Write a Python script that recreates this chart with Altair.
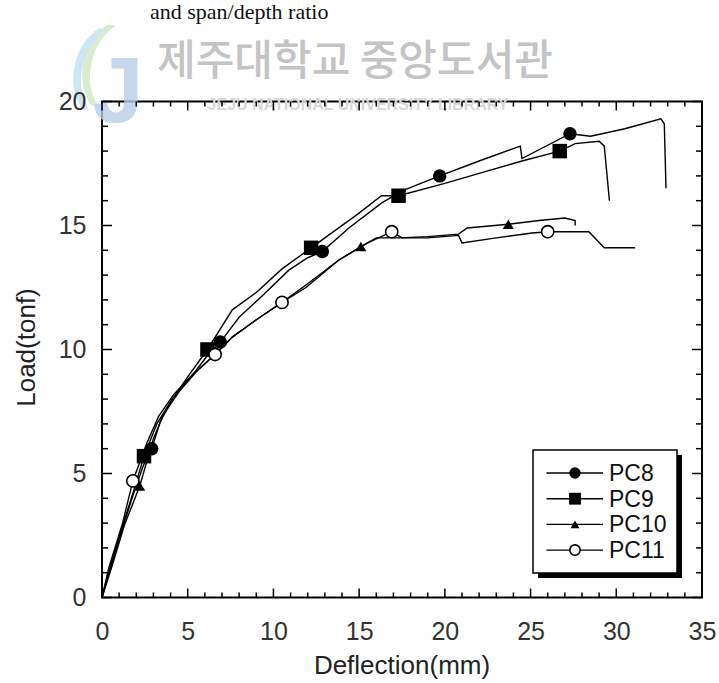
import altair as alt
import pandas as pd

# ---------------- data ----------------
series_names = ["PC8", "PC9", "PC10", "PC11"]

pc8_x = [0, 0.5, 1.2, 1.8, 2.4, 2.9, 3.4, 4.2, 5.2, 6.2, 6.9, 8.0, 9.4, 10.9, 12.0, 12.85, 14.4, 16.3,
         17.5, 19.7, 22.0, 24.4, 24.5, 27.3, 28.5, 30.5, 32.6, 32.8, 32.9]
pc8_y = [0, 1.3, 2.8, 4.1, 5.3, 6.0, 7.1, 8.1, 8.9, 9.8, 10.3, 11.3, 12.2, 13.2, 13.7, 13.95, 14.9, 15.9,
         16.4, 17.0, 17.6, 18.2, 17.7, 18.7, 18.6, 18.9, 19.3, 19.1, 16.5]

pc9_x = [0, 0.5, 1.2, 1.8, 2.45, 3.2, 4.0, 5.0, 6.15, 7.6, 9.0, 10.5, 12.2, 13.2, 14.8, 16.3, 17.3,
         20.0, 22.5, 24.5, 26.7, 27.6, 29.0, 29.3, 29.6]
pc9_y = [0, 1.2, 2.9, 4.2, 5.7, 7.0, 7.9, 8.9, 10.0, 11.6, 12.3, 13.25, 14.1, 14.6, 15.4, 16.2, 16.2,
         16.7, 17.2, 17.6, 18.0, 18.3, 18.4, 18.2, 16.0]

pc10_x = [0, 0.6, 1.3, 2.2, 3.0, 3.6, 4.5, 5.5, 6.6, 7.6, 9.0, 10.5, 11.9, 13.8, 15.1, 16.0, 17.3,
          19.0, 20.8, 21.3, 23.7, 25.5, 27.0, 27.6, 27.6]
pc10_y = [0, 1.3, 2.9, 4.5, 6.4, 7.4, 8.3, 9.1, 9.8, 10.5, 11.2, 11.9, 12.6, 13.6, 14.15, 14.5, 14.5,
          14.55, 14.65, 14.9, 15.05, 15.2, 15.3, 15.2, 15.0]

pc11_x = [0, 0.4, 1.2, 1.8, 2.6, 3.3, 4.2, 5.3, 6.6, 7.6, 9.0, 10.5, 11.9, 13.8, 15.5, 16.9, 17.5,
          19.0, 20.8, 21.0, 23.0, 25.1, 26.0, 28.4, 29.3, 31.1]
pc11_y = [0, 1.2, 3.0, 4.7, 6.2, 7.3, 8.2, 9.0, 9.8, 10.5, 11.2, 11.9, 12.5, 13.6, 14.3, 14.75, 14.5,
          14.5, 14.6, 14.3, 14.5, 14.7, 14.75, 14.75, 14.1, 14.1]

# marker positions
pc8_mx = [2.9, 6.9, 12.85, 19.7, 27.3]
pc8_my = [6.0, 10.3, 13.95, 17.0, 18.7]
pc9_mx = [2.45, 6.15, 12.2, 17.3, 26.7]
pc9_my = [5.7, 10.0, 14.1, 16.2, 18.0]
pc10_mx = [2.2, 15.1, 23.7]
pc10_my = [4.5, 14.15, 15.05]
pc11_mx = [1.8, 6.6, 10.5, 16.9, 26.0]
pc11_my = [4.7, 9.8, 11.9, 14.75, 14.75]

x_labels = [0, 5, 10, 15, 20, 25, 30, 35]
y_labels = [0, 5, 10, 15, 20]
x_minor = [v for v in range(0, 36) if v % 5 != 0]
y_minor = [v for v in range(0, 21) if v % 5 != 0]

title_text = "and span/depth ratio"
watermark_kr = "제주대학교 중앙도서관"
watermark_en = "JEJU NATIONAL UNIVERSITY LIBRARY"
x_title = "Deflection(mm)"
y_title = "Load(tonf)"

# ---------------- layout / style ----------------
W, H = 600, 496
TICK_FONT = "Liberation Sans, Arial, sans-serif"
SANS = "Liberation Sans, Arial, sans-serif"

xs = alt.Scale(domain=[0, 35], nice=False, zero=False)
ys = alt.Scale(domain=[0, 20], nice=False, zero=False)

AX_X = alt.Axis(values=x_labels, ticks=False, domain=False, grid=False, title=None, zindex=2,
                labelFont=TICK_FONT, labelFontSize=25, labelColor="#333333",
                labelPadding=22, labelFlush=False, labelOverlap=False)
AX_Y = alt.Axis(values=y_labels, ticks=False, domain=False, grid=False, title=None, zindex=2,
                labelFont=TICK_FONT, labelFontSize=25, labelColor="#333333",
                labelPadding=16, labelFlush=False, labelOverlap=False)


def X(field="x"):
    return alt.X(f"{field}:Q", scale=xs, axis=AX_X, title=None)


def Y(field="y"):
    return alt.Y(f"{field}:Q", scale=ys, axis=AX_Y, title=None)


lines_data = {
    "PC8": (pc8_x, pc8_y), "PC9": (pc9_x, pc9_y),
    "PC10": (pc10_x, pc10_y), "PC11": (pc11_x, pc11_y),
}
marks_data = {
    "PC8": (pc8_mx, pc8_my), "PC9": (pc9_mx, pc9_my),
    "PC10": (pc10_mx, pc10_my), "PC11": (pc11_mx, pc11_my),
}
styles = {
    "PC8": dict(shape="circle", filled=True, size=180, lsize=130),
    "PC9": dict(shape="square", filled=True, size=210, lsize=140),
    "PC10": dict(shape="triangle-up", filled=True, size=120, lsize=80),
    "PC11": dict(shape="circle", filled=False, size=150, lsize=110),
}

rows = []
for s in series_names:
    xx, yy = lines_data[s]
    for i, (a, b) in enumerate(zip(xx, yy)):
        rows.append({"series": s, "i": i, "x": a, "y": b})
line_df = pd.DataFrame(rows)

layers = []

# logo approximation and faint watermark (behind everything)
layers.append(alt.Chart(pd.DataFrame({"t": ["("]})).mark_text(
    font=SANS, fontSize=88, color="#d9ecd0", align="center", baseline="alphabetic", angle=12).encode(
    x=alt.value(-14), y=alt.value(-16), text="t:N"))
layers.append(alt.Chart(pd.DataFrame({"t": ["("]})).mark_text(
    font=SANS, fontSize=88, color="#cde6f3", align="center", baseline="alphabetic", angle=12).encode(
    x=alt.value(-23), y=alt.value(-12), text="t:N"))
layers.append(alt.Chart(pd.DataFrame({"t": ["J"]})).mark_text(
    font=SANS, fontSize=92, fontWeight="bold", color="#b8cce8", align="center", baseline="alphabetic",
    opacity=0.8).encode(
    x=alt.value(16), y=alt.value(20), text="t:N"))
layers.append(
    alt.Chart(pd.DataFrame({"t": [watermark_en]})).mark_text(
        font=SANS, fontSize=16, fontWeight="bold", color="#d8d8d8", align="center", baseline="middle"
    ).encode(x=alt.value(256), y=alt.value(3), text="t:N")
)
layers.append(alt.Chart(pd.DataFrame({"t": [watermark_kr]})).mark_text(
    font="Noto Sans CJK KR", fontSize=42, fontWeight=500, color="#c4c4c4", align="center",
    baseline="middle").encode(
    x=alt.value(253), y=alt.value(-40), text="t:N"))

lines = alt.Chart(line_df).mark_line(color="black", strokeWidth=1.4).encode(
    x=X(), y=Y(), detail="series:N", order="i:Q",
)
layers.append(lines)

for s in series_names:
    mx, my = marks_data[s]
    st = styles[s]
    mdf = pd.DataFrame({"x": mx, "y": my})
    if st["filled"]:
        mk = alt.Chart(mdf).mark_point(shape=st["shape"], filled=True, size=st["size"], color="black", opacity=1)
    else:
        mk = alt.Chart(mdf).mark_point(shape=st["shape"], filled=False, size=st["size"], fill="white",
                                       fillOpacity=1, stroke="black", strokeWidth=1.6, opacity=1)
    layers.append(mk.encode(x=X(), y=Y()))


# inward ticks on all four sides
def xticks(vals, length, top):
    d = pd.DataFrame({"x": vals})
    y0 = 0 if top else H
    y1 = length if top else H - length
    return alt.Chart(d).mark_rule(color="black", strokeWidth=1.5).encode(
        x=X(), y=alt.value(y0), y2=alt.value(y1))


def yticks(vals, length, right):
    d = pd.DataFrame({"y": vals})
    x0 = W if right else 0
    x1 = W - length if right else length
    return alt.Chart(d).mark_rule(color="black", strokeWidth=1.5).encode(
        y=Y(), x=alt.value(x0), x2=alt.value(x1))


for top in (False, True):
    layers.append(xticks(x_labels, 9, top))
    layers.append(xticks(x_minor, 5, top))
for right in (False, True):
    layers.append(yticks(y_labels, 10, right))
    layers.append(yticks(y_minor, 6, right))

# legend (drawn by hand to show line + marker)
LX0, LX1, LY0, LY1 = 431, 575, 348.5, 471.5
layers.append(alt.Chart(pd.DataFrame({"a": [0]})).mark_rect(color="black").encode(
    x=alt.value(LX0 + 5), x2=alt.value(LX1 + 5), y=alt.value(LY0 + 5), y2=alt.value(LY1 + 5)))
layers.append(alt.Chart(pd.DataFrame({"a": [0]})).mark_rect(fill="white", stroke="black", strokeWidth=1.5).encode(
    x=alt.value(LX0), x2=alt.value(LX1), y=alt.value(LY0), y2=alt.value(LY1)))
row_y0, row_dy = 371.5, 25.7
for k, s in enumerate(series_names):
    ry = row_y0 + k * row_dy
    st = styles[s]
    d = pd.DataFrame({"t": [s]})
    layers.append(alt.Chart(d).mark_rule(color="black", strokeWidth=1.4).encode(
        x=alt.value(444.5), x2=alt.value(501), y=alt.value(ry)))
    if st["filled"]:
        lm = alt.Chart(d).mark_point(shape=st["shape"], filled=True, size=st["lsize"], color="black", opacity=1)
    else:
        lm = alt.Chart(d).mark_point(shape=st["shape"], filled=False, size=st["lsize"], fill="white",
                                     fillOpacity=1, stroke="black", strokeWidth=1.6, opacity=1)
    layers.append(lm.encode(x=alt.value(473), y=alt.value(ry)))
    layers.append(alt.Chart(d).mark_text(font=SANS, fontSize=23, color="#111", align="left",
                                         baseline="middle").encode(
        x=alt.value(507), y=alt.value(ry + 1), text="t:N"))

# titles outside the plot area
layers.append(alt.Chart(pd.DataFrame({"t": [x_title]})).mark_text(
    font=SANS, fontSize=26, color="#222", align="center", baseline="alphabetic").encode(
    x=alt.value(W / 2), y=alt.value(572), text="t:N"))
layers.append(alt.Chart(pd.DataFrame({"t": [y_title]})).mark_text(
    font=SANS, fontSize=26, color="#222", align="center", baseline="middle", angle=270).encode(
    x=alt.value(-75), y=alt.value(H / 2 - 2), text="t:N"))
layers.append(alt.Chart(pd.DataFrame({"t": [title_text]})).mark_text(
    font="Liberation Serif, Times New Roman, serif", fontSize=22, color="#111", align="left",
    baseline="alphabetic").encode(
    x=alt.value(48), y=alt.value(-83), text="t:N"))

chart = alt.layer(*layers).properties(
    width=W, height=H,
    autosize=alt.AutoSizeParams(type="none"),
    padding={"left": 102, "top": 101.5, "right": 17, "bottom": 85.5},
    background="white",
).configure_view(stroke="black", strokeWidth=2)

chart.save("out.html", embed_options={"renderer": "svg", "actions": False})
